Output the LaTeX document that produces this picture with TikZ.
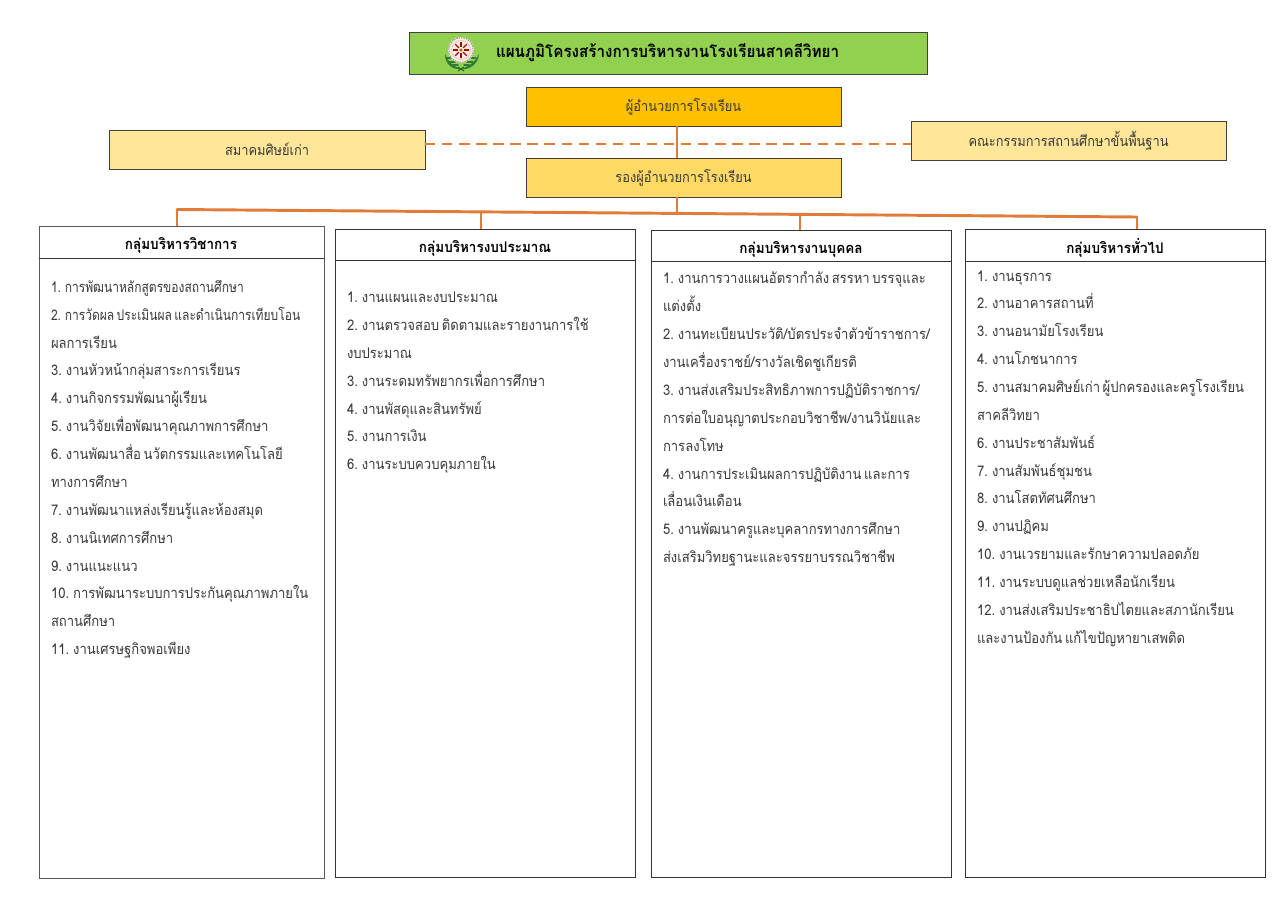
\documentclass[tikz,border=0pt]{standalone}
\usepackage{fontspec}
\usetikzlibrary{calc}
\newfontfamily\thaifont[Script=Thai,FakeStretch=0.89,WordSpace=0.6]{Loma}
\newfontfamily\thainarrow[Script=Thai,FakeStretch=0.82,WordSpace=0.6]{Loma}
\newfontfamily\thaihead[Script=Thai,FakeStretch=0.92,WordSpace=0.6]{Loma}
\definecolor{titlegreen}{HTML}{92D050}
\definecolor{dirgold}{HTML}{FFC000}
\definecolor{depgold}{HTML}{FFD966}
\definecolor{sidegold}{HTML}{FFE699}
\definecolor{linkorange}{HTML}{E07B39}
\definecolor{inktext}{HTML}{3A3A3A}
\definecolor{leafgreen}{HTML}{2E7D32}
\definecolor{cream}{HTML}{F6EFE2}
\tikzset{
  every node/.style={inner sep=0pt,outer sep=0pt},
  orgbox/.style={draw=black!75,line width=.7pt,minimum width=236.25pt,minimum height=29.25pt,text=inktext,font=\thaifont\fontsize{10.8}{13}\selectfont},
  colbox/.style={draw=black!80,line width=.7pt,fill=white},
  headtext/.style={font=\thaihead\bfseries\fontsize{11}{13}\selectfont,text=black},
  bodytext/.style={anchor=north west,align=left,text=inktext,font=\thaifont\fontsize{11}{20.9}\selectfont},
  link/.style={draw=linkorange,line width=2.2pt},
}
\begin{document}
\begin{tikzpicture}[x=.75pt,y=-.75pt]
\path[use as bounding box,fill=white] (0,0) rectangle (1280,906);
% header boxes
\node[orgbox,fill=titlegreen,minimum width=388.5pt,minimum height=31.5pt] (title) at (668,53) {};
\node[anchor=west,font=\thaihead\bfseries\fontsize{12.4}{15}\selectfont,text=black] (titletext) at (496,53) {แผนภูมิโครงสร้างการบริหารงานโรงเรียนสาคลีวิทยา};
\node[orgbox,fill=dirgold] (dir) at (683.5,106.5) {ผู้อำนวยการโรงเรียน};
\node[orgbox,fill=depgold] (dep) at (683.5,177.5) {รองผู้อำนวยการโรงเรียน};
\node[orgbox,fill=sidegold,minimum width=237pt] (alumni) at (267,149.5) {สมาคมศิษย์เก่า};
\node[orgbox,fill=sidegold] (board) at (1068.5,140.5) {คณะกรรมการสถานศึกษาขั้นพื้นฐาน};
% columns
\node[colbox,draw=black!65,minimum width=213.75pt,minimum height=489pt] (col1) at (181.5,552) {};
\node[colbox,minimum width=225pt,minimum height=486pt] (col2) at (485,553) {};
\node[colbox,minimum width=225pt,minimum height=485.25pt] (col3) at (801,553.5) {};
\node[colbox,minimum width=225pt,minimum height=486pt] (col4) at (1115,553) {};
\coordinate (h1) at (0,258); \coordinate (h2) at (0,260); \coordinate (h3) at (0,261); \coordinate (h4) at (0,261);
\foreach \c/\h in {col1/h1,col2/h2,col3/h3,col4/h4}
  \draw[draw=black!80,line width=.7pt] (\c.west |- \h) -- (\c.east |- \h);
\node[headtext] (head1) at (181,245) {กลุ่มบริหารวิชาการ};
\node[headtext] (head2) at (485,248) {กลุ่มบริหารงบประมาณ};
\node[headtext] (head3) at (801,249) {กลุ่มบริหารงานบุคคล};
\node[headtext] (head4) at (1115,248) {กลุ่มบริหารทั่วไป};
\node[bodytext] (body1) at (51,280.3) {{\thainarrow 1. การพัฒนาหลักสูตรของสถานศึกษา}\\
{\thainarrow 2. การวัดผล ประเมินผล และดำเนินการเทียบโอน}\\
ผลการเรียน\\
3. งานหัวหน้ากลุ่มสาระการเรียนร\\
4. งานกิจกรรมพัฒนาผู้เรียน\\
5. งานวิจัยเพื่อพัฒนาคุณภาพการศึกษา\\
6. งานพัฒนาสื่อ นวัตกรรมและเทคโนโลยี\\
ทางการศึกษา\\
7. งานพัฒนาแหล่งเรียนรู้และห้องสมุด\\
8. งานนิเทศการศึกษา\\
9. งานแนะแนว\\
10. การพัฒนาระบบการประกันคุณภาพภายใน\\
สถานศึกษา\\
11. งานเศรษฐกิจพอเพียง};
\node[bodytext] (body2) at (347,292) {1. งานแผนและงบประมาณ\\
2. งานตรวจสอบ ติดตามและรายงานการใช้\\
งบประมาณ\\
3. งานระดมทรัพยากรเพื่อการศึกษา\\
4. งานพัสดุและสินทรัพย์\\
5. งานการเงิน\\
6. งานระบบควบคุมภายใน};
\node[bodytext] (body3) at (663,272) {1. งานการวางแผนอัตรากำลัง สรรหา บรรจุและ\\
แต่งตั้ง\\
2. งานทะเบียนประวัติ/บัตรประจำตัวข้าราชการ/\\
งานเครื่องราชย์/รางวัลเชิดชูเกียรติ\\
3. งานส่งเสริมประสิทธิภาพการปฏิบัติราชการ/\\
การต่อใบอนุญาตประกอบวิชาชีพ/งานวินัยและ\\
การลงโทษ\\
4. งานการประเมินผลการปฏิบัติงาน และการ\\
เลื่อนเงินเดือน\\
5. งานพัฒนาครูและบุคลากรทางการศึกษา\\
ส่งเสริมวิทยฐานะและจรรยาบรรณวิชาชีพ};
\node[bodytext] (body4) at (977,270.5) {1. งานธุรการ\\
2. งานอาคารสถานที่\\
3. งานอนามัยโรงเรียน\\
4. งานโภชนาการ\\
5. งานสมาคมศิษย์เก่า ผู้ปกครองและครูโรงเรียน\\
สาคลีวิทยา\\
6. งานประชาสัมพันธ์\\
7. งานสัมพันธ์ชุมชน\\
8. งานโสตทัศนศึกษา\\
9. งานปฏิคม\\
10. งานเวรยามและรักษาความปลอดภัย\\
11. งานระบบดูแลช่วยเหลือนักเรียน\\
12. งานส่งเสริมประชาธิปไตยและสภานักเรียน\\
และงานป้องกัน แก้ไขปัญหายาเสพติด};
% connectors
\coordinate (spine) at (677,212.7);
\coordinate (busL) at (177,209.5);
\coordinate (bus2) at (481,212);
\coordinate (bus3) at (800,214.5);
\coordinate (busR) at (1137,217);
\coordinate (dashy) at (677,144);
\draw[link] (dir.south -| spine) -- (dep.north -| spine);
\draw[link] (dep.south -| spine) -- (spine);
\draw[link,line cap=round] (busL) -- (busR);
\draw[link] (busL) -- (col1.north -| busL);
\draw[link] (bus2) -- (col2.north -| bus2);
\draw[link] (bus3) -- (col3.north -| bus3);
\draw[link] (busR) -- (col4.north -| busR);
\draw[link,dash pattern=on 7.8pt off 5pt] (alumni.east |- dashy) -- (board.west |- dashy);
% emblem: laurel branches
\fill[leafgreen] (461,69) .. controls (452,70) and (445,64) .. (445,54) .. controls (447,61) and (453,66) .. (461,69);
\fill[leafgreen] (461,69) .. controls (470,70) and (478,64) .. (479,54) .. controls (476,61) and (470,66) .. (461,69);
\foreach \px/\py/\qx/\qy in {446/58/452/58,449/62/455/62,453/65/458/65,476/58/470/58,473/62/467/62,469/65/464/65}{
  \draw[leafgreen,line width=1.1pt,line cap=round] (\px,\py) -- (\qx,\qy);
}
\draw[leafgreen!70!black,line width=.7pt] (458,67) -- (464,71) (464,67) -- (458,71);
% emblem: wheel
\fill[cream] (461,50) circle (13);
\draw[draw=black!45,line width=.7pt,dash pattern=on 1pt off .8pt] (461,50) circle (12.3);
\draw[draw=red!30,line width=.5pt] (461,50) circle (9.5);
\foreach \a in {0,45,...,315}{
  \draw[draw=red!65!black,line width=.9pt] ($(461,50)+(\a:3)$) -- ($(461,50)+(\a:8)$);
  }
\fill[orange!70!black] (461,50) circle (1.6);
\end{tikzpicture}
\end{document}
